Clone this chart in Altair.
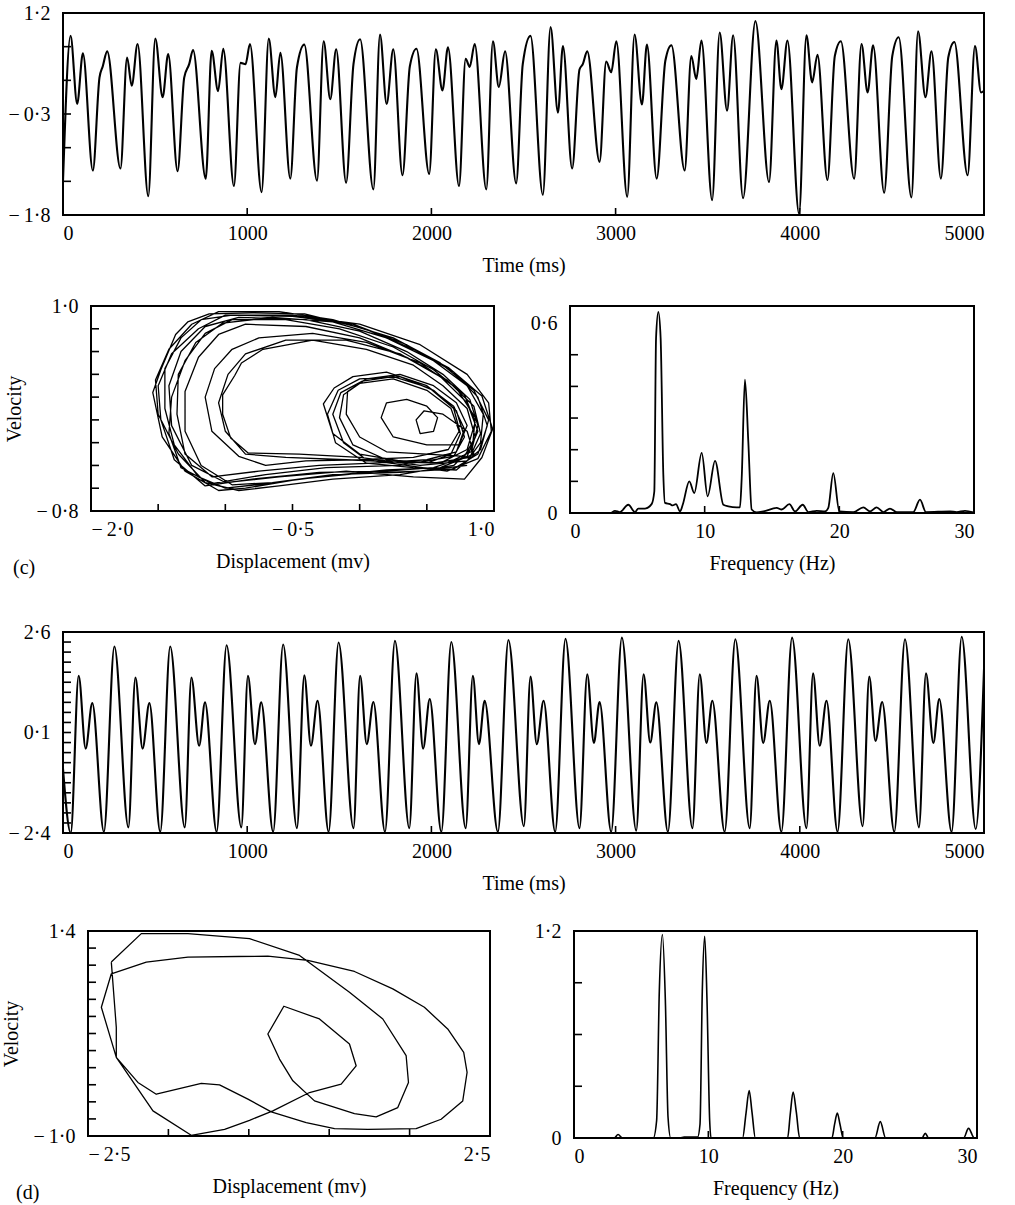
import altair as alt
import pandas as pd

FONT = "Liberation Serif"

# ---------------------------------------------------------------
# (c) velocity trace: turning points (time in ms, value)
c_time = [0, 41, 77, 108, 162, 198, 216, 240, 312, 348, 373, 405, 463, 501, 541, 571,
          622, 658, 685, 706, 775, 807, 842, 870, 928, 964, 991, 1015, 1078, 1117, 1153,
          1180, 1234, 1270, 1310, 1379, 1415, 1451, 1483, 1537, 1577, 1613, 1685, 1721,
          1757, 1793, 1843, 1883, 1919, 1988, 2024, 2060, 2090, 2150, 2186, 2208, 2235,
          2298, 2334, 2366, 2400, 2460, 2496, 2538, 2605, 2647, 2687, 2714, 2764, 2804,
          2822, 2846, 2913, 2949, 2976, 3004, 3063, 3103, 3143, 3170, 3223, 3270, 3303,
          3375, 3411, 3438, 3466, 3524, 3565, 3605, 3638, 3692, 3759, 3833, 3873, 3900,
          3933, 3996, 4036, 4067, 4096, 4150, 4190, 4223, 4295, 4335, 4368, 4398, 4458,
          4502, 4537, 4606, 4642, 4682, 4715, 4766, 4806, 4839, 4911, 4951, 4984, 5000]
c_value = [-1.30, 0.86, -0.15, 0.60, -1.14, 0.24, 0.41, 0.63, -1.11, 0.54, 0.12, 0.74,
           -1.52, 0.82, -0.05, 0.59, -1.15, 0.24, 0.44, 0.65, -1.26, 0.64, 0.04, 0.67,
           -1.37, 0.46, 0.44, 0.74, -1.46, 0.82, -0.05, 0.61, -1.26, 0.39, 0.73, -1.29,
           0.78, -0.08, 0.66, -1.32, 0.44, 0.81, -1.42, 0.88, -0.15, 0.66, -1.21, 0.41,
           0.67, -1.19, 0.66, 0.05, 0.69, -1.37, 0.52, 0.40, 0.74, -1.42, 0.78, 0.10,
           0.63, -1.33, 0.44, 0.86, -1.50, 0.99, -0.28, 0.71, -1.11, 0.36, 0.44, 0.63,
           -1.01, 0.48, 0.32, 0.78, -1.53, 0.88, -0.16, 0.73, -1.26, 0.49, 0.72, -1.14,
           0.56, 0.22, 0.79, -1.58, 0.91, -0.25, 0.87, -1.55, 1.08, -1.31, 0.79, 0.07,
           0.79, -1.78, 0.87, 0.17, 0.58, -1.28, 0.56, 0.78, -1.26, 0.74, 0.02, 0.72,
           -1.47, 0.56, 0.84, -1.54, 0.93, -0.05, 0.63, -1.26, 0.54, 0.77, -1.21, 0.71,
           0.02, 0.04]

# (c) phase portrait: displacement / velocity vertices in drawing order
c_disp = [0.80, 0.45, 0.00, -0.45, -0.85, -1.05, -1.30, -1.47, -1.54, -1.48, -1.37, -1.28,
          -1.12, -0.80, -0.41, 0.04, 0.40, 0.66, 0.91, 0.99, 0.91, 0.78,
          0.40, -0.10, -0.60, -1.00, -1.25, -1.40, -1.42, -1.33, -1.15, -0.90, -0.40, 0.00,
          0.35, 0.62, 0.82, 0.88, 0.83, 0.65,
          0.30, 0.00, -0.20, -0.27, -0.19, -0.05, 0.20, 0.50, 0.70, 0.78, 0.72, 0.50,
          0.10, -0.30, -0.75, -1.10, -1.30, -1.36, -1.35, -1.22, -1.02, -0.65, -0.20, 0.20,
          0.55, 0.80, 0.92, 0.90, 0.80,
          0.45, 0.00, -0.45, -0.83, -0.96, -1.02, -1.02, -0.93, -0.88, -0.72, -0.35, 0.05,
          0.40, 0.62, 0.80, 0.86, 0.78,
          0.50, 0.20, 0.00, -0.10, -0.09, 0.05, 0.30, 0.55, 0.72, 0.80, 0.74,
          0.50, 0.25, 0.16, 0.20, 0.35, 0.50, 0.58, 0.55, 0.45, 0.42, 0.48, 0.62, 0.80, 0.85,
          0.60, 0.20, -0.30, -0.70, -1.00, -1.20, -1.38, -1.45, -1.45, -1.33, -1.18, -0.95,
          -0.50, -0.05, 0.35, 0.70, 0.88, 0.95, 0.88, 0.70,
          0.30, -0.20, -0.65, -0.95, -1.18, -1.30, -1.30, -1.20, -1.05, -0.85, -0.40, 0.00,
          0.35, 0.65, 0.85, 0.90, 0.82,
          0.55, 0.20, -0.05, -0.15, -0.12, 0.00, 0.25, 0.50, 0.68, 0.74, 0.66,
          0.40, 0.00, -0.40, -0.70, -0.90, -1.10, -1.15, -1.08, -0.95, -0.75, -0.35, 0.05,
          0.45, 0.72, 0.86, 0.84, 0.70,
          0.30, -0.20, -0.60, -0.90, -1.15, -1.35, -1.50, -1.52, -1.42, -1.25, -1.05, -0.60,
          -0.20, 0.25, 0.60, 0.85, 0.96, 0.90, 0.72,
          0.40, 0.05, -0.18, -0.24, -0.16, 0.00, 0.30, 0.55, 0.72, 0.78, 0.70,
          0.30, -0.25, -0.70, -1.10, -1.33, -1.42, -1.40, -1.30, -1.15, -0.95, -0.55, -0.15,
          0.25, 0.55, 0.78, 0.86, 0.80, 0.60, 0.30,
          -0.10, -0.55, -0.85, -1.00, -1.05, -0.98, -0.85, -0.55, -0.10, 0.30, 0.60, 0.80,
          0.88, 0.80, 0.55,
          0.20, -0.30, -0.80, -1.15, -1.38, -1.48, -1.50, -1.40, -1.20, -1.00, -0.50, 0.00,
          0.45, 0.80, 0.96, 0.98, 0.88, 0.65,
          0.35, 0.05, -0.12, -0.20, -0.14, 0.02, 0.25, 0.52, 0.70, 0.75, 0.68, 0.50]
c_velo = [-0.40, -0.45, -0.47, -0.52, -0.60, -0.62, -0.45, -0.15, 0.24, 0.44, 0.75, 0.86,
          0.93, 0.94, 0.93, 0.80, 0.62, 0.46, 0.21, -0.08, -0.33, -0.52,
          -0.50, -0.45, -0.50, -0.55, -0.40, -0.05, 0.30, 0.60, 0.82, 0.90, 0.88, 0.78,
          0.60, 0.40, 0.18, -0.05, -0.28, -0.38,
          -0.36, -0.30, -0.12, 0.14, 0.28, 0.38, 0.42, 0.30, 0.12, -0.08, -0.28, -0.35,
          -0.38, -0.40, -0.45, -0.50, -0.30, 0.05, 0.40, 0.68, 0.85, 0.90, 0.86, 0.72,
          0.52, 0.30, 0.05, -0.20, -0.36,
          -0.40, -0.33, -0.30, -0.29, -0.16, 0.05, 0.22, 0.39, 0.50, 0.62, 0.70, 0.62,
          0.48, 0.30, 0.10, -0.15, -0.32,
          -0.30, -0.28, -0.15, 0.05, 0.25, 0.36, 0.40, 0.30, 0.15, -0.05, -0.22,
          -0.22, -0.15, 0.02, 0.15, 0.18, 0.12, 0.02, -0.10, -0.12, 0.00, 0.08, 0.05, -0.10, -0.30,
          -0.42, -0.44, -0.50, -0.56, -0.60, -0.50, -0.22, 0.10, 0.45, 0.72, 0.88, 0.92,
          0.91, 0.84, 0.66, 0.42, 0.20, -0.05, -0.30, -0.43,
          -0.46, -0.48, -0.55, -0.57, -0.40, -0.10, 0.25, 0.55, 0.75, 0.84, 0.82, 0.72,
          0.55, 0.35, 0.12, -0.12, -0.33,
          -0.38, -0.35, -0.22, 0.02, 0.22, 0.32, 0.36, 0.26, 0.10, -0.10, -0.26,
          -0.33, -0.35, -0.36, -0.40, -0.32, -0.10, 0.20, 0.45, 0.62, 0.72, 0.76, 0.68,
          0.50, 0.28, 0.02, -0.24, -0.40,
          -0.48, -0.52, -0.58, -0.62, -0.55, -0.30, 0.05, 0.35, 0.62, 0.84, 0.95, 0.95,
          0.88, 0.72, 0.50, 0.26, 0.00, -0.26, -0.44,
          -0.42, -0.38, -0.20, 0.05, 0.26, 0.36, 0.38, 0.26, 0.08, -0.15, -0.32,
          -0.40, -0.42, -0.48, -0.56, -0.42, -0.12, 0.20, 0.52, 0.76, 0.88, 0.88, 0.80,
          0.64, 0.44, 0.22, -0.02, -0.26, -0.38, -0.37,
          -0.35, -0.33, -0.30, -0.10, 0.15, 0.40, 0.58, 0.70, 0.70, 0.58, 0.38, 0.15,
          -0.10, -0.32, -0.42,
          -0.45, -0.46, -0.52, -0.58, -0.35, 0.00, 0.30, 0.58, 0.80, 0.92, 0.92, 0.84,
          0.66, 0.40, 0.15, -0.10, -0.34, -0.45,
          -0.40, -0.35, -0.20, 0.05, 0.24, 0.34, 0.38, 0.28, 0.10, -0.12, -0.30, -0.38]

# (c) amplitude spectrum
c_freq = [0.0, 3.0, 3.34, 3.7, 4.33, 4.83, 5.07, 5.57, 6.06, 6.26, 6.39, 6.56, 6.73, 6.93,
          7.05, 7.43, 7.62, 7.87, 8.17, 8.37, 8.86, 9.23, 9.78, 10.22, 10.77, 11.39, 11.76,
          12.38, 12.62, 12.75, 12.99, 13.24, 13.49, 13.86, 14.36, 15.35, 15.72, 16.29, 16.71,
          17.28, 17.70, 18.32, 18.93, 19.18, 19.55, 20.0, 21.04, 21.78, 22.28, 22.77, 23.27,
          23.76, 24.26, 25.49, 25.99, 26.43, 28.22, 28.71, 29.33, 29.95]
c_amp = [0.0, 0.0, 0.007, 0.003, 0.026, 0.003, 0.014, 0.014, 0.028, 0.068, 0.553, 0.635,
         0.553, 0.121, 0.032, 0.028, 0.024, 0.028, 0.005, 0.026, 0.100, 0.063, 0.190, 0.053,
         0.165, 0.026, 0.021, 0.018, 0.018, 0.110, 0.421, 0.226, 0.011, 0.002, 0.005, 0.016,
         0.011, 0.028, 0.005, 0.026, 0.003, 0.007, 0.005, 0.016, 0.126, 0.005, 0.003, 0.018,
         0.005, 0.018, 0.003, 0.014, 0.003, 0.003, 0.042, 0.003, 0.005, 0.003, 0.007, 0.002]

# ---------------------------------------------------------------
# (d) velocity trace: turning points
d_time = [0, 42, 85, 123, 159, 222, 279, 355, 393, 432, 469, 528, 582, 661, 697, 739, 771,
          834, 888, 968, 1004, 1042, 1076, 1141, 1195, 1270, 1310, 1346, 1382, 1442, 1496,
          1577, 1613, 1649, 1685, 1748, 1802, 1880, 1919, 1955, 1991, 2054, 2108, 2186,
          2225, 2258, 2289, 2361, 2418, 2502, 2538, 2572, 2609, 2672, 2728, 2804, 2846,
          2882, 2913, 2976, 3034, 3112, 3152, 3188, 3221, 3284, 3342, 3417, 3457, 3493,
          3525, 3592, 3650, 3728, 3765, 3801, 3837, 3900, 3958, 4036, 4072, 4108, 4145,
          4205, 4263, 4341, 4377, 4411, 4447, 4513, 4571, 4647, 4685, 4725, 4757, 4824,
          4879, 4955, 5000]
d_value = [-0.80, -2.40, 1.51, -0.30, 0.83, -2.37, 2.24, -2.26, 1.47, -0.30, 0.83, -2.37,
           2.24, -2.26, 1.47, -0.23, 0.85, -2.37, 2.27, -2.26, 1.51, -0.19, 0.85, -2.37,
           2.29, -2.28, 1.52, -0.23, 0.89, -2.37, 2.34, -2.28, 1.51, -0.19, 0.86, -2.37,
           2.38, -2.28, 1.57, -0.30, 0.93, -2.37, 2.35, -2.28, 1.51, -0.19, 0.89, -2.37,
           2.40, -2.23, 1.49, -0.19, 0.89, -2.37, 2.43, -2.28, 1.55, -0.16, 0.86, -2.37,
           2.46, -2.34, 1.55, -0.15, 0.85, -2.37, 2.38, -2.28, 1.55, -0.16, 0.89, -2.37,
           2.42, -2.28, 1.51, -0.16, 0.89, -2.37, 2.46, -2.28, 1.57, -0.23, 0.89, -2.37,
           2.42, -2.23, 1.49, -0.11, 0.86, -2.37, 2.42, -2.26, 1.57, -0.16, 0.93, -2.37,
           2.48, -2.30, 1.67]

# (d) phase portrait vertices in drawing order
d_disp = [-2.210, -1.837, -1.257, -0.491, 0.131, 0.752, 1.167, 1.457, 1.486, 1.353, 1.084,
          0.814, 0.317, 0.048, -0.118, -0.263, -0.064, 0.379, 0.752, 0.835, 0.649, 0.255,
          -0.201, -0.491, -0.801, -1.216, -1.692, -2.148, -2.334, -2.210, -1.775, -1.257,
          -0.263, 0.234, 0.814, 1.291, 1.684, 1.974, 2.173, 2.215, 2.161, 1.892, 1.581,
          0.980, 0.566, 0.214, -0.221, -0.511, -0.864, -1.091, -1.651, -1.879, -2.148,
          -2.148, -2.210]
d_velo = [1.036, 1.369, 1.369, 1.310, 1.114, 0.684, 0.370, -0.060, -0.373, -0.667, -0.777,
          -0.738, -0.589, -0.354, -0.099, 0.194, 0.519, 0.370, 0.077, -0.178, -0.393, -0.491,
          -0.706, -0.816, -0.922, -0.992, -0.706, -0.080, 0.507, 0.899, 1.036, 1.095,
          1.106, 1.055, 0.926, 0.723, 0.507, 0.253, -0.021, -0.256, -0.589, -0.804, -0.914,
          -0.922, -0.914, -0.843, -0.718, -0.569, -0.401, -0.385, -0.511, -0.373, -0.080,
          0.272, 1.036]

# (d) amplitude spectrum
d_freq = [0.0, 3.0, 3.28, 3.6, 5.9, 6.15, 6.35, 6.58, 6.8, 7.0, 7.2, 7.9, 8.2, 9.2, 9.38,
          9.55, 9.73, 9.9, 10.1, 10.2, 12.55, 12.8, 13.04, 13.25, 13.5, 15.9, 16.1, 16.31,
          16.55, 16.8, 19.2, 19.4, 19.6, 19.8, 20.05, 22.4, 22.8, 23.2, 25.9, 26.15, 26.4,
          29.0, 29.37, 29.8, 30.0]
d_amp = [0.0, 0.0, 0.02, 0.0, 0.0, 0.10, 0.85, 1.18, 0.80, 0.12, 0.0, 0.0, 0.005, 0.005,
         0.08, 0.85, 1.17, 0.80, 0.10, 0.0, 0.0, 0.14, 0.275, 0.15, 0.0, 0.0, 0.14, 0.266,
         0.15, 0.0, 0.0, 0.08, 0.145, 0.08, 0.0, 0.0, 0.095, 0.0, 0.0, 0.027, 0.0, 0.0,
         0.056, 0.0, 0.0]

# ---------------------------------------------------------------
# axis label and tick positions
c_trace_ylabels = [1.2, -0.3, -1.8]
c_trace_yticks = [0.7, 0.2, -0.3, -0.8, -1.3]
d_trace_ylabels = [2.6, 0.1, -2.4]
d_trace_yticks = [2.35, 2.1, 1.85, 1.6, 1.35, 1.1, 0.85, 0.6, 0.35, 0.1, -0.15, -0.4,
                  -0.65, -0.9, -1.15, -1.4, -1.65, -1.9, -2.15]
time_labels = [0, 1000, 2000, 3000, 4000, 5000]
time_ticks = [1000, 2000, 3000, 4000]

c_phase_xlabels = [-2.0, -0.5, 1.0]
c_phase_xticks = [-1.5, -1.0, -0.5, 0.0, 0.5]
c_phase_ylabels = [1.0, -0.8]
c_phase_yticks = [0.8, 0.6, 0.4, 0.2, 0.0, -0.2, -0.4, -0.6]
d_phase_xlabels = [-2.5, 2.5]
d_phase_xticks = [-1.5, -0.5, 0.5, 1.5]
d_phase_ylabels = [1.4, -1.0]
d_phase_yticks = [1.2, 1.0, 0.8, 0.6, 0.4, 0.2, 0.0, -0.2, -0.4, -0.6, -0.8]

freq_labels = [0, 10, 20, 30]
freq_ticks = [10, 20]
c_spec_ylabels = [0, 0.6]
c_spec_yticks = [0.1, 0.2, 0.3, 0.4, 0.5]
d_spec_ylabels = [0, 1.2]
d_spec_yticks = [0.3, 0.6, 0.9]

# decimal labels in the journal style: middle dot and spaced minus
DEC = ("datum.value == 0 ? '0' : "
       "replace(replace(replace(format(datum.value, '.1f'), '.', '\u00b7'), '-', '\u2212'),"
       " '\u2212', '\u2212\u2009')")
INT = "format(datum.value, 'd')"


def panel(xs, ys, xdom, ydom, xlabels, xticks, ylabels, yticks, w, h,
          xtitle=None, ytitle=None, expr_x=DEC, expr_y=DEC, ordered=False,
          width_line=2.0, interp="monotone", tag=None, tag_dx=-78):
    xaxis = alt.Axis(values=xlabels, labelExpr=expr_x, labelPadding=8,
                     titlePadding=12, labelOverlap=False, labelBound=False)
    yaxis = alt.Axis(values=ylabels, labelExpr=expr_y, labelPadding=13,
                     titlePadding=12, labelOverlap=False)
    xsc = alt.Scale(domain=xdom, nice=False, zero=False)
    ysc = alt.Scale(domain=ydom, nice=False, zero=False)
    xenc = alt.X("x:Q", scale=xsc, axis=xaxis, title=xtitle)
    yenc = alt.Y("y:Q", scale=ysc, axis=yaxis, title=ytitle)

    df = pd.DataFrame({"x": xs, "y": ys, "i": list(range(len(xs)))})
    enc = dict(x=xenc, y=yenc)
    if ordered:
        enc["order"] = alt.Order("i:Q")
        line = alt.Chart(df).mark_line(color="black", strokeWidth=width_line, clip=True,
                                       strokeJoin="round")
    else:
        line = alt.Chart(df).mark_line(color="black", strokeWidth=width_line, clip=True,
                                       interpolate=interp)
    layers = [line.encode(**enc)]

    yt = pd.DataFrame({"y": yticks})
    layers.append(alt.Chart(yt).mark_rule(color="black", strokeWidth=1.6).encode(
        y=yenc, x=alt.value(0), x2=alt.value(8)))
    if xticks:
        xt = pd.DataFrame({"x": xticks})
        layers.append(alt.Chart(xt).mark_rule(color="black", strokeWidth=1.6).encode(
            x=xenc, y=alt.value(h), y2=alt.value(h - 7)))
    if tag is not None:
        tg = pd.DataFrame({"lab": [tag]})
        layers.append(alt.Chart(tg).mark_text(font=FONT, fontSize=20, align="left",
                                              baseline="middle", color="black").encode(
            text="lab:N", x=alt.value(tag_dx), y=alt.value(h + 57)))
    return alt.layer(*layers).properties(width=w, height=h)


def indent():
    # an empty, frameless one-pixel cell that shifts the next cell to the right
    return (alt.Chart(pd.DataFrame({"s": [0]}))
            .mark_point(opacity=0)
            .encode(x=alt.value(0), y=alt.value(0))
            .properties(width=1, height=1, view=alt.ViewBackground(stroke="transparent")))


trace_c = panel(c_time, c_value, [0, 5000], [-1.8, 1.2], time_labels, time_ticks,
                c_trace_ylabels, c_trace_yticks, 921, 202, xtitle="Time (ms)",
                expr_x=INT, width_line=2.1)
phase_c = panel(c_disp, c_velo, [-2.0, 1.0], [-0.8, 1.0], c_phase_xlabels, c_phase_xticks,
                c_phase_ylabels, c_phase_yticks, 403, 205, xtitle="Displacement (mv)",
                ytitle="Velocity", ordered=True, width_line=1.3, tag="(c)")
spec_c = panel(c_freq, c_amp, [0, 30], [0, 0.654], freq_labels, freq_ticks,
               c_spec_ylabels, c_spec_yticks, 404, 207, xtitle="Frequency (Hz)",
               expr_x=INT, width_line=1.8)

trace_d = panel(d_time, d_value, [0, 5000], [-2.4, 2.6], time_labels, time_ticks,
                d_trace_ylabels, d_trace_yticks, 921, 201, xtitle="Time (ms)",
                expr_x=INT, width_line=2.1)
phase_d = panel(d_disp, d_velo, [-2.5, 2.5], [-1.0, 1.4], d_phase_xlabels, d_phase_xticks,
                d_phase_ylabels, d_phase_yticks, 402, 205, xtitle="Displacement (mv)",
                ytitle="Velocity", ordered=True, width_line=1.3, tag="(d)", tag_dx=-72)
spec_d = panel(d_freq, d_amp, [0, 30], [0, 1.2], freq_labels, freq_ticks,
               d_spec_ylabels, d_spec_yticks, 403, 207, xtitle="Frequency (Hz)",
               expr_x=INT, width_line=1.6)

row1 = alt.hconcat(trace_c, spacing=0)
row2 = alt.hconcat(indent(), alt.hconcat(phase_c, spec_c, spacing=34),
                   spacing=27, bounds="flush")
row3 = alt.hconcat(trace_d, spacing=0)
row4 = alt.hconcat(indent(), alt.hconcat(phase_d, spec_d, spacing=42),
                   spacing=24, bounds="flush")

upper = alt.concat(row1, row2, columns=1, spacing=19)
lower = alt.concat(row3, row4, columns=1, spacing=26)

chart = (
    alt.concat(upper, lower, columns=1, spacing=42)
    .properties(padding={"left": 0, "top": 2, "right": 5, "bottom": 5}, background="white")
    .configure_axis(labelFont=FONT, titleFont=FONT, labelFontSize=20, titleFontSize=20,
                    labelColor="black", titleColor="black", titleFontWeight="normal",
                    grid=False, domain=False, ticks=False, tickSize=0)
    .configure_view(stroke="black", strokeWidth=2)
)

chart.save("out.html", embed_options={"renderer": "svg", "actions": False})
